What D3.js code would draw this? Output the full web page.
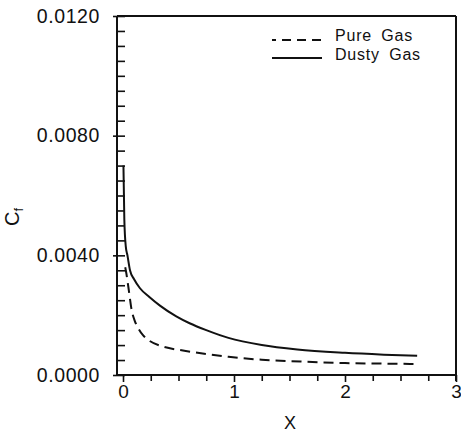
<!DOCTYPE html>
<html><head><meta charset="utf-8">
<script src="https://cdn.jsdelivr.net/npm/d3@7"></script>
<style>
html,body{margin:0;padding:0;background:#fff;}
text{font-family:"Liberation Sans",Arial,sans-serif;fill:#111;}
</style></head>
<body>
<svg id="c" width="461" height="435"></svg>
<script>
// Data
const dustyX = [0.004, 0.012, 0.025, 0.04, 0.063, 0.1, 0.153, 0.24, 0.333, 0.48, 0.6, 0.75, 0.95, 1.25, 1.57, 2.0, 2.35, 2.65];
const dustyY = [0.0070, 0.0052, 0.0043, 0.0040, 0.0035, 0.0032, 0.0029, 0.0026, 0.00232, 0.00196, 0.00173, 0.0015, 0.00124, 0.00100, 0.00085, 0.00074, 0.00068, 0.00064];
const pureX = [0.02, 0.03, 0.048, 0.078, 0.105, 0.138, 0.18, 0.228, 0.36, 0.54, 0.75, 0.95, 1.25, 1.6, 2.0, 2.35, 2.65];
const pureY = [0.0036, 0.0034, 0.00295, 0.00217, 0.00182, 0.00156, 0.00133, 0.00117, 0.00095, 0.00082, 0.00070, 0.00061, 0.00051, 0.00045, 0.00040, 0.00038, 0.00037];
const seriesNames = ["Pure Gas", "Dusty Gas"];
const xMajorTicks = [0, 1, 2, 3];
const xMinorTicks = [0.25, 0.5, 0.75, 1.25, 1.5, 1.75, 2.25, 2.5, 2.75];
const yMajorTicks = [0, 0.004, 0.008, 0.012];
const yMinorTicks = [0.0005,0.001,0.0015,0.002,0.0025,0.003,0.0035,0.0045,0.005,0.0055,0.006,0.0065,0.007,0.0075,0.0085,0.009,0.0095,0.01,0.0105,0.011,0.0115];
const yTickLabels = ["0.0000", "0.0040", "0.0080", "0.0120"];

const svg = d3.select("#c");
const L = 123, R = 456, T = 16, B = 375;
const x = d3.scaleLinear().domain([0, 3]).range([L, R]);
const y = d3.scaleLinear().domain([0, 0.012]).range([B, T]);
const ink = "#111";

// frame top/right
svg.append("line").attr("x1", L - 6).attr("x2", R).attr("y1", T).attr("y2", T).attr("stroke", ink).attr("stroke-width", 2);
svg.append("line").attr("x1", R).attr("x2", R).attr("y1", T).attr("y2", B + 6).attr("stroke", ink).attr("stroke-width", 2);

const yMin = svg.append("g").attr("transform", `translate(${L},0)`)
  .call(d3.axisLeft(y).tickValues(yMinorTicks).tickSize(6).tickFormat(""));
const yMaj = svg.append("g").attr("transform", `translate(${L},0)`)
  .call(d3.axisLeft(y).tickValues(yMajorTicks).tickSize(10).tickPadding(13)
    .tickFormat((d, i) => yTickLabels[i]));
const xMin = svg.append("g").attr("transform", `translate(0,${B})`)
  .call(d3.axisBottom(x).tickValues(xMinorTicks).tickSize(6).tickFormat(""));
const xMaj = svg.append("g").attr("transform", `translate(0,${B})`)
  .call(d3.axisBottom(x).tickValues(xMajorTicks).tickSize(7).tickPadding(3).tickFormat(d3.format("d")));

[yMin, yMaj, xMin, xMaj].forEach(g => {
  g.selectAll(".domain").attr("stroke", ink).attr("stroke-width", 2);
  g.selectAll(".tick line").attr("stroke", ink).attr("stroke-width", 1.6);
  g.selectAll("text").attr("font-size", 19).attr("fill", ink).attr("font-family", '"Liberation Sans",Arial,sans-serif');
});
yMaj.selectAll("text").attr("font-size", 19.5).attr("letter-spacing", 0.6);
yMaj.selectAll(".domain").attr("d", `M-6,${T}V${B}`);
yMin.selectAll(".domain").remove();
xMin.selectAll(".domain").remove();
xMaj.selectAll(".domain").attr("d", `M${L - 6},0H${R}`);
yMin.selectAll(".tick line").attr("x2", -6).attr("x1", 2);
yMaj.selectAll(".tick line").attr("x2", -10).attr("x1", 2);

// curves
const line = d3.line().x(d => x(d[0])).y(d => y(d[1])).curve(d3.curveMonotoneX);
const dusty = dustyX.map((v, i) => [v, dustyY[i]]);
const pure = pureX.map((v, i) => [v, pureY[i]]);
svg.append("path").datum(dusty).attr("d", line).attr("fill", "none").attr("stroke", ink).attr("stroke-width", 2);
svg.append("path").datum(pure).attr("d", line).attr("fill", "none").attr("stroke", ink).attr("stroke-width", 2).attr("stroke-dasharray", "10,6");

// legend
const leg = svg.append("g");
leg.append("line").attr("x1", 272).attr("x2", 322).attr("y1", 40).attr("y2", 40).attr("stroke", ink).attr("stroke-width", 2).attr("stroke-dasharray", "4,6,9,6,9,6,9");
leg.append("line").attr("x1", 272).attr("x2", 322).attr("y1", 58).attr("y2", 58).attr("stroke", ink).attr("stroke-width", 2);
leg.append("text").attr("x", 335).attr("y", 41).attr("font-size", 16).attr("letter-spacing", 0.8).attr("word-spacing", 4).text(seriesNames[0]);
leg.append("text").attr("x", 335).attr("y", 60).attr("font-size", 16).attr("letter-spacing", 0.8).attr("word-spacing", 4).text(seriesNames[1]);

// axis titles
svg.append("text").attr("x", 290).attr("y", 429).attr("text-anchor", "middle").attr("font-size", 18).text("X");
const yl = svg.append("text").attr("transform", "translate(19,226) rotate(-90)").attr("text-anchor", "start").attr("font-size", 20);
yl.append("tspan").text("C");
yl.append("tspan").attr("font-size", 13).attr("dy", 4).text("f");
</script>
</body></html>
